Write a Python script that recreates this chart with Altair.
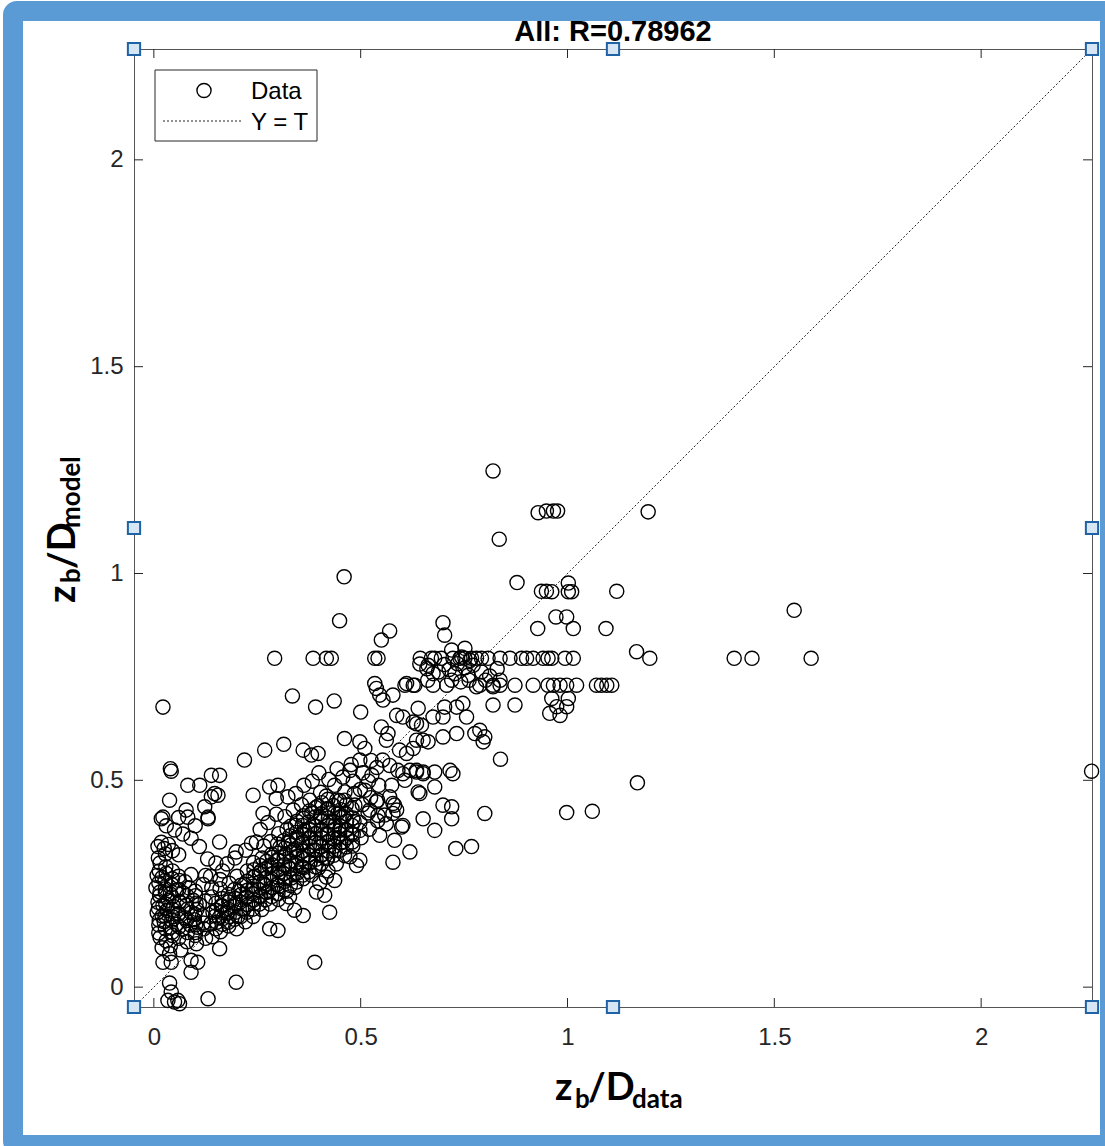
import altair as alt
import pandas as pd

# ---------------- axis ranges / texts ----------------
XMIN, XMAX = -0.048, 2.268
YMIN, YMAX = -0.048, 2.268
W = H = 958
tick_values = [0, 0.5, 1, 1.5, 2]
title_text = "All: R=0.78962"
legend_labels = ["Data", "Y = T"]

# ---------------- data (target, output) ----------------
outlier_pts = [
    (0.820, 1.248), (0.929, 1.147), (0.949, 1.151), (0.966, 1.151), (0.976, 1.151), (1.195, 1.149),
    (0.835, 1.083), (0.878, 0.978), (0.460, 0.992), (0.449, 0.886), (0.570, 0.861), (0.550, 0.839),
    (0.937, 0.957), (0.949, 0.957), (0.962, 0.956), (1.002, 0.977), (1.002, 0.956), (1.010, 0.956),
    (1.119, 0.957), (0.972, 0.895), (0.998, 0.895), (0.928, 0.867), (1.014, 0.867), (1.093, 0.867),
    (1.548, 0.911), (0.699, 0.881), (0.703, 0.851), (1.167, 0.811), (1.199, 0.795), (1.403, 0.795),
    (1.446, 0.795), (1.589, 0.795), (2.267, 0.522), (1.169, 0.494), (0.998, 0.422), (1.060, 0.425),
    (0.800, 0.420), (0.838, 0.551), (0.022, 0.677), (0.292, 0.795), (0.385, 0.795), (0.417, 0.795),
    (0.429, 0.795), (0.335, 0.704), (0.391, 0.677), (0.436, 0.692), (0.500, 0.665),
]

row_pts = [
    (0.534, 0.795), (0.542, 0.795), (0.644, 0.795), (0.671, 0.795), (0.679, 0.795), (0.695, 0.795),
    (0.723, 0.795), (0.740, 0.795), (0.752, 0.795), (0.768, 0.795), (0.780, 0.795), (0.792, 0.795),
    (0.808, 0.795), (0.837, 0.795), (0.861, 0.795), (0.889, 0.795), (0.901, 0.795), (0.917, 0.795),
    (0.941, 0.795), (0.953, 0.795), (0.962, 0.795), (0.994, 0.795), (1.014, 0.795),
    (0.607, 0.730), (0.627, 0.730), (0.675, 0.730), (0.708, 0.730), (0.788, 0.730), (0.820, 0.730),
    (0.837, 0.730), (0.873, 0.730), (0.917, 0.730), (0.953, 0.730), (0.966, 0.730), (0.982, 0.730),
    (0.998, 0.730), (1.022, 0.730), (1.070, 0.730), (1.082, 0.730), (1.095, 0.730), (1.107, 0.730),
]

cluster_mid_pts = [
    (0.720, 0.815), (0.752, 0.819), (0.744, 0.798), (0.764, 0.790), (0.780, 0.726), (0.728, 0.758),
    (0.760, 0.754), (0.675, 0.758), (0.703, 0.677), (0.732, 0.677), (0.756, 0.653), (0.699, 0.653),
    (0.747, 0.686), (0.675, 0.653), (0.635, 0.637), (0.663, 0.593), (0.699, 0.605), (0.788, 0.621),
    (0.800, 0.605), (0.796, 0.593), (0.776, 0.613), (0.732, 0.613), (0.820, 0.682), (0.873, 0.682),
    (0.962, 0.698), (1.002, 0.698), (0.974, 0.678), (0.998, 0.678), (0.957, 0.662), (0.982, 0.657),
    (0.643, 0.781), (0.663, 0.778), (0.534, 0.734), (0.538, 0.722), (0.546, 0.706), (0.554, 0.694),
    (0.578, 0.706), (0.611, 0.734), (0.631, 0.730), (0.639, 0.674), (0.587, 0.657), (0.602, 0.653),
    (0.550, 0.629), (0.566, 0.613), (0.562, 0.597), (0.627, 0.641), (0.647, 0.633), (0.635, 0.597),
    (0.651, 0.597), (0.660, 0.770), (0.688, 0.762), (0.702, 0.780), (0.714, 0.768), (0.734, 0.782),
    (0.752, 0.772), (0.772, 0.778), (0.792, 0.762), (0.812, 0.752), (0.830, 0.770), (0.662, 0.742),
    (0.720, 0.742), (0.742, 0.738), (0.762, 0.742), (0.802, 0.742), (0.820, 0.726), (0.837, 0.742),
]

lower_mid_pts = [
    (0.611, 0.565), (0.627, 0.577), (0.602, 0.516), (0.635, 0.520), (0.651, 0.520), (0.679, 0.520),
    (0.716, 0.524), (0.723, 0.516), (0.639, 0.472), (0.679, 0.484), (0.699, 0.440), (0.720, 0.436),
    (0.720, 0.407), (0.651, 0.407), (0.679, 0.379), (0.602, 0.391), (0.461, 0.601), (0.498, 0.593),
    (0.510, 0.577), (0.643, 0.468), (0.651, 0.516), (0.635, 0.524), (0.570, 0.460), (0.578, 0.444),
    (0.587, 0.428), (0.578, 0.302), (0.619, 0.327), (0.599, 0.387), (0.562, 0.395), (0.542, 0.415),
    (0.578, 0.420), (0.490, 0.294), (0.498, 0.307), (0.474, 0.315), (0.553, 0.549), (0.570, 0.536),
    (0.590, 0.524), (0.527, 0.512), (0.510, 0.476), (0.541, 0.452), (0.575, 0.488), (0.607, 0.500),
    (0.619, 0.524), (0.474, 0.524), (0.498, 0.549), (0.594, 0.573), (0.582, 0.440), (0.558, 0.416),
    (0.522, 0.428), (0.486, 0.440), (0.461, 0.452), (0.498, 0.379), (0.546, 0.367), (0.582, 0.355),
    (0.449, 0.379), (0.730, 0.335), (0.768, 0.340), (0.219, 0.549), (0.268, 0.573), (0.314, 0.587),
    (0.361, 0.573), (0.381, 0.561), (0.397, 0.565),
]

left_pts = [
    (0.040, 0.528), (0.042, 0.522), (0.038, 0.452), (0.082, 0.488), (0.111, 0.488), (0.139, 0.512),
    (0.159, 0.512), (0.147, 0.468), (0.155, 0.464), (0.139, 0.460), (0.240, 0.464), (0.280, 0.484),
    (0.300, 0.488), (0.324, 0.460), (0.296, 0.456), (0.022, 0.411), (0.078, 0.428), (0.082, 0.411),
    (0.123, 0.436), (0.131, 0.411), (0.199, 0.327), (0.248, 0.351), (0.264, 0.420), (0.131, 0.407),
    (0.018, 0.407), (0.159, 0.351),
    (0.389, 0.060), (0.199, 0.012), (0.131, -0.028), (0.038, 0.010), (0.034, -0.032), (0.050, -0.036),
    (0.058, -0.032), (0.042, -0.012), (0.062, -0.040), (0.090, 0.036), (0.106, 0.060), (0.038, 0.081),
    (0.042, 0.060), (0.022, 0.060), (0.159, 0.093), (0.280, 0.141), (0.300, 0.137), (0.103, 0.105),
    (0.090, 0.065), (0.425, 0.181), (0.361, 0.173), (0.340, 0.186), (0.320, 0.202), (0.328, 0.218),
    (0.393, 0.230), (0.413, 0.222), (0.437, 0.258), (0.417, 0.266),
]

stripe_pts = [
    (0.010, 0.340), (0.018, 0.350), (0.025, 0.335), (0.035, 0.345), (0.045, 0.330), (0.060, 0.320),
    (0.015, 0.300), (0.008, 0.270), (0.020, 0.265), (0.030, 0.275), (0.045, 0.262), (0.060, 0.268),
    (0.075, 0.255), (0.090, 0.272), (0.005, 0.240), (0.015, 0.230), (0.028, 0.238), (0.040, 0.225),
    (0.055, 0.235), (0.070, 0.228), (0.085, 0.240), (0.100, 0.232), (0.010, 0.205), (0.022, 0.198),
    (0.035, 0.210), (0.048, 0.195), (0.062, 0.205), (0.078, 0.198), (0.095, 0.210), (0.110, 0.200),
    (0.008, 0.180), (0.020, 0.172), (0.032, 0.185), (0.046, 0.170), (0.060, 0.178), (0.075, 0.168),
    (0.090, 0.180), (0.012, 0.150), (0.025, 0.158), (0.040, 0.145), (0.055, 0.152), (0.070, 0.140),
    (0.088, 0.150), (0.105, 0.145), (0.120, 0.155), (0.015, 0.120), (0.030, 0.112), (0.045, 0.125),
    (0.060, 0.118), (0.080, 0.110), (0.100, 0.125), (0.125, 0.118), (0.020, 0.095), (0.040, 0.100),
    (0.065, 0.090), (0.030, 0.390), (0.050, 0.380), (0.070, 0.370), (0.090, 0.360), (0.060, 0.410),
    (0.100, 0.390), (0.110, 0.340), (0.130, 0.310), (0.125, 0.270), (0.140, 0.240), (0.150, 0.300),
    (0.160, 0.260),
    (0.012, 0.131), (0.013, 0.162), (0.011, 0.191), (0.014, 0.221), (0.012, 0.252), (0.013, 0.281),
    (0.011, 0.312), (0.028, 0.141), (0.027, 0.172), (0.029, 0.201), (0.028, 0.228), (0.027, 0.258),
    (0.029, 0.291), (0.028, 0.322), (0.044, 0.133), (0.043, 0.162), (0.045, 0.188), (0.044, 0.218),
    (0.043, 0.248), (0.045, 0.281), (0.061, 0.146), (0.059, 0.176), (0.062, 0.207), (0.060, 0.236),
    (0.061, 0.258), (0.081, 0.132), (0.079, 0.161), (0.082, 0.189), (0.080, 0.221), (0.101, 0.151),
    (0.099, 0.176), (0.102, 0.203),
]

band_pts = [
    (0.100, 0.132), (0.098, 0.163), (0.104, 0.188), (0.101, 0.221),
    (0.121, 0.141), (0.118, 0.172), (0.124, 0.208), (0.119, 0.248),
    (0.141, 0.122), (0.138, 0.153), (0.143, 0.181), (0.140, 0.218), (0.137, 0.268),
    (0.161, 0.134), (0.158, 0.168), (0.163, 0.197), (0.160, 0.238), (0.166, 0.281),
    (0.181, 0.148), (0.178, 0.179), (0.184, 0.212), (0.182, 0.251), (0.177, 0.298),
    (0.200, 0.141), (0.203, 0.171), (0.198, 0.202), (0.205, 0.232), (0.201, 0.268), (0.196, 0.312),
    (0.221, 0.158), (0.218, 0.189), (0.224, 0.218), (0.219, 0.248), (0.226, 0.281), (0.222, 0.331),
    (0.240, 0.171), (0.243, 0.202), (0.238, 0.236), (0.245, 0.268), (0.241, 0.301), (0.236, 0.348),
    (0.261, 0.188), (0.258, 0.221), (0.264, 0.252), (0.259, 0.281), (0.262, 0.312), (0.266, 0.341), (0.257, 0.381),
    (0.281, 0.201), (0.278, 0.232), (0.284, 0.262), (0.279, 0.292), (0.285, 0.321), (0.282, 0.352), (0.276, 0.398),
    (0.301, 0.212), (0.298, 0.248), (0.304, 0.278), (0.299, 0.308), (0.305, 0.338), (0.302, 0.371), (0.296, 0.418),
    (0.321, 0.232), (0.318, 0.262), (0.324, 0.291), (0.319, 0.322), (0.325, 0.351), (0.322, 0.382), (0.317, 0.412),
    (0.341, 0.241), (0.338, 0.272), (0.344, 0.301), (0.339, 0.331), (0.345, 0.362), (0.342, 0.391), (0.337, 0.428), (0.343, 0.468),
    (0.361, 0.262), (0.358, 0.291), (0.364, 0.318), (0.359, 0.348), (0.365, 0.378), (0.362, 0.408), (0.357, 0.441), (0.363, 0.488),
    (0.381, 0.271), (0.378, 0.302), (0.384, 0.331), (0.379, 0.361), (0.385, 0.392), (0.382, 0.421), (0.377, 0.452), (0.383, 0.498),
    (0.401, 0.252), (0.398, 0.288), (0.404, 0.318), (0.399, 0.348), (0.405, 0.381), (0.402, 0.411), (0.397, 0.438), (0.403, 0.471), (0.399, 0.518),
    (0.421, 0.281), (0.418, 0.311), (0.424, 0.342), (0.419, 0.371), (0.425, 0.401), (0.422, 0.432), (0.417, 0.462), (0.423, 0.502),
    (0.441, 0.298), (0.438, 0.331), (0.444, 0.361), (0.439, 0.392), (0.445, 0.421), (0.442, 0.452), (0.437, 0.488), (0.443, 0.528),
    (0.461, 0.318), (0.458, 0.351), (0.464, 0.381), (0.459, 0.412), (0.465, 0.441), (0.462, 0.472), (0.457, 0.508),
    (0.481, 0.341), (0.478, 0.372), (0.484, 0.401), (0.479, 0.432), (0.485, 0.468), (0.482, 0.498), (0.477, 0.538),
    (0.501, 0.361), (0.498, 0.398), (0.504, 0.441), (0.499, 0.478), (0.505, 0.518),
    (0.521, 0.382), (0.518, 0.421), (0.524, 0.458), (0.519, 0.498), (0.525, 0.548),
    (0.541, 0.402), (0.538, 0.448), (0.544, 0.488), (0.539, 0.531),
]

core_pts = [
    (0.150, 0.141), (0.152, 0.157), (0.149, 0.172), (0.151, 0.186), (0.150, 0.203),
    (0.165, 0.152), (0.167, 0.166), (0.164, 0.181), (0.166, 0.196), (0.165, 0.214),
    (0.180, 0.157), (0.182, 0.171), (0.179, 0.189), (0.181, 0.206), (0.180, 0.224),
    (0.195, 0.164), (0.197, 0.181), (0.194, 0.196), (0.196, 0.214), (0.195, 0.236),
    (0.210, 0.171), (0.212, 0.189), (0.209, 0.206), (0.211, 0.224), (0.210, 0.246),
    (0.225, 0.181), (0.227, 0.199), (0.224, 0.216), (0.226, 0.234), (0.225, 0.256),
    (0.240, 0.189), (0.242, 0.211), (0.239, 0.226), (0.241, 0.244), (0.240, 0.266), (0.242, 0.284),
    (0.255, 0.201), (0.257, 0.219), (0.254, 0.236), (0.256, 0.254), (0.255, 0.276), (0.257, 0.294),
    (0.270, 0.211), (0.272, 0.229), (0.269, 0.246), (0.271, 0.264), (0.270, 0.286), (0.272, 0.304),
    (0.285, 0.219), (0.287, 0.241), (0.284, 0.256), (0.286, 0.274), (0.285, 0.296), (0.287, 0.314),
    (0.300, 0.226), (0.302, 0.244), (0.299, 0.266), (0.301, 0.284), (0.300, 0.306), (0.302, 0.324), (0.299, 0.346),
    (0.315, 0.234), (0.317, 0.256), (0.314, 0.274), (0.316, 0.296), (0.315, 0.314), (0.317, 0.336), (0.314, 0.354),
    (0.330, 0.246), (0.332, 0.264), (0.329, 0.286), (0.331, 0.304), (0.330, 0.326), (0.332, 0.344), (0.329, 0.366), (0.331, 0.389),
    (0.345, 0.254), (0.347, 0.276), (0.344, 0.294), (0.346, 0.316), (0.345, 0.334), (0.347, 0.356), (0.344, 0.374), (0.346, 0.401),
    (0.360, 0.271), (0.362, 0.289), (0.359, 0.311), (0.361, 0.329), (0.360, 0.351), (0.362, 0.369), (0.359, 0.391), (0.361, 0.414),
    (0.375, 0.279), (0.377, 0.301), (0.374, 0.319), (0.376, 0.341), (0.375, 0.359), (0.377, 0.381), (0.374, 0.399), (0.376, 0.426),
    (0.390, 0.291), (0.392, 0.309), (0.389, 0.331), (0.391, 0.349), (0.390, 0.371), (0.392, 0.389), (0.389, 0.411), (0.391, 0.434),
    (0.405, 0.299), (0.407, 0.321), (0.404, 0.339), (0.406, 0.361), (0.405, 0.379), (0.407, 0.401), (0.404, 0.419), (0.406, 0.446),
    (0.420, 0.311), (0.422, 0.329), (0.419, 0.351), (0.421, 0.369), (0.420, 0.391), (0.422, 0.409), (0.419, 0.431), (0.421, 0.454),
    (0.435, 0.319), (0.437, 0.341), (0.434, 0.359), (0.436, 0.381), (0.435, 0.399), (0.437, 0.421), (0.434, 0.439),
    (0.450, 0.331), (0.452, 0.349), (0.449, 0.371), (0.451, 0.389), (0.450, 0.411), (0.452, 0.429), (0.449, 0.451),
    (0.465, 0.339), (0.467, 0.361), (0.464, 0.379), (0.466, 0.401), (0.465, 0.419),
    (0.480, 0.351), (0.482, 0.369), (0.479, 0.391), (0.481, 0.409),
]

all_pts = outlier_pts + row_pts + cluster_mid_pts + lower_mid_pts + left_pts + stripe_pts + band_pts + core_pts
df = pd.DataFrame(all_pts, columns=["t", "y"])

# ---------------- styling ----------------
AX = "#262626"
BLUE = "#5b9bd5"
TICK_FONT = "Liberation Sans"
LABEL_FONT = "Lato"

xs = alt.Scale(domain=[XMIN, XMAX], nice=False, zero=False)
ys = alt.Scale(domain=[YMIN, YMAX], nice=False, zero=False)
x_axis = alt.Axis(values=tick_values, format="~g", grid=False, ticks=False, domain=False,
                  labelFontSize=24, labelFont=TICK_FONT, labelColor=AX, labelPadding=18, title=None)
y_axis = alt.Axis(values=tick_values, format="~g", grid=False, ticks=False, domain=False,
                  labelFontSize=24, labelFont=TICK_FONT, labelColor=AX, labelPadding=11, title=None)


def X(f):
    return alt.X(f, type="quantitative", scale=xs, axis=x_axis)


def Y(f):
    return alt.Y(f, type="quantitative", scale=ys, axis=y_axis)


one = pd.DataFrame({"k": [0]})

points = alt.Chart(df).mark_point(shape="circle", filled=False, size=200, color="black",
                                  strokeWidth=1.4, opacity=1).encode(x=X("t"), y=Y("y"))

line_df = pd.DataFrame({"t": [XMIN, XMAX], "y": [YMIN, YMAX]})
identity = alt.Chart(line_df).mark_line(color="#222222", strokeWidth=1, strokeDash=[2, 2]).encode(
    x=X("t"), y=Y("y"))

tick_df = pd.DataFrame({"v": tick_values})
ticks_bottom = alt.Chart(tick_df).mark_rule(color=AX, strokeWidth=1).encode(
    x=X("v"), y=alt.value(H), y2=alt.value(H - 9))
ticks_top = alt.Chart(tick_df).mark_rule(color=AX, strokeWidth=1).encode(
    x=X("v"), y=alt.value(0), y2=alt.value(9))
ticks_left = alt.Chart(tick_df).mark_rule(color=AX, strokeWidth=1).encode(
    y=Y("v"), x=alt.value(0), x2=alt.value(9))
ticks_right = alt.Chart(tick_df).mark_rule(color=AX, strokeWidth=1).encode(
    y=Y("v"), x=alt.value(W), x2=alt.value(W - 9))

# legend
leg_box = alt.Chart(one).mark_rect(fill="white", stroke=AX, strokeWidth=1).encode(
    x=alt.value(21), x2=alt.value(183), y=alt.value(21), y2=alt.value(92))
leg_circle = alt.Chart(one).mark_point(shape="circle", filled=False, size=200, color="black",
                                       strokeWidth=1.4, opacity=1).encode(x=alt.value(70), y=alt.value(41.5))
leg_line = alt.Chart(one).mark_rule(color="#222222", strokeWidth=1, strokeDash=[2, 2]).encode(
    x=alt.value(29), x2=alt.value(109), y=alt.value(72))
leg_t1 = alt.Chart(one).mark_text(align="left", baseline="alphabetic", fontSize=24, font=TICK_FONT,
                                  color="black").encode(x=alt.value(117), y=alt.value(50),
                                                        text=alt.value(legend_labels[0]))
leg_t2 = alt.Chart(one).mark_text(align="left", baseline="alphabetic", fontSize=24, font=TICK_FONT,
                                  color="black").encode(x=alt.value(117), y=alt.value(81),
                                                        text=alt.value(legend_labels[1]))

# selection handles
mid = (XMIN + XMAX) / 2
handle_df = pd.DataFrame({
    "t": [XMIN, mid, XMAX, XMIN, XMAX, XMIN, mid, XMAX],
    "y": [YMIN, YMIN, YMIN, mid, mid, YMAX, YMAX, YMAX],
})
handles = alt.Chart(handle_df).mark_point(shape="square", filled=True, size=150, fill="#d6e6f5",
                                          stroke="#1f63a6", strokeWidth=2, opacity=1).encode(
    x=X("t"), y=Y("y"))


def piece(txt, px, py, size, angle=0, font=LABEL_FONT, align="left"):
    return alt.Chart(one).mark_text(align=align, baseline="alphabetic", fontSize=size, font=font,
                                    fontWeight="bold", color="black", angle=angle).encode(
        x=alt.value(px), y=alt.value(py), text=alt.value(txt))


title_mark = piece(title_text, W / 2, -8, 29, font=TICK_FONT, align="center")
xlabel = [piece("z", 421, 1051, 38), piece("b", 441, 1059, 26),
          piece("/D", 454, 1051, 38), piece("data", 498, 1059, 26)]
ylabel = [piece("z", -59, 554, 38, 270), piece("b", -54, 534, 26, 270),
          piece("/D", -59, 520, 38, 270), piece("model", -54, 479, 26, 270)]

frame = alt.Chart(one).mark_rect(fillOpacity=0, stroke=BLUE, strokeWidth=20, cornerRadius=4,
                                 strokeJoin="round").encode(
    x=alt.value(-121), x2=alt.value(976), y=alt.value(-38), y2=alt.value(1096))

chart = alt.layer(
    points, identity, ticks_bottom, ticks_top, ticks_left, ticks_right,
    leg_box, leg_circle, leg_line, leg_t1, leg_t2, handles, title_mark, *xlabel, *ylabel, frame
).properties(
    width=W, height=H,
    autosize=alt.AutoSizeParams(type="none"),
    padding={"left": 134, "top": 49, "right": 13, "bottom": 139},
    background="white",
).configure_view(stroke="#555555", strokeWidth=1)

chart.save("out.html", embed_options={"renderer": "svg", "actions": False})
